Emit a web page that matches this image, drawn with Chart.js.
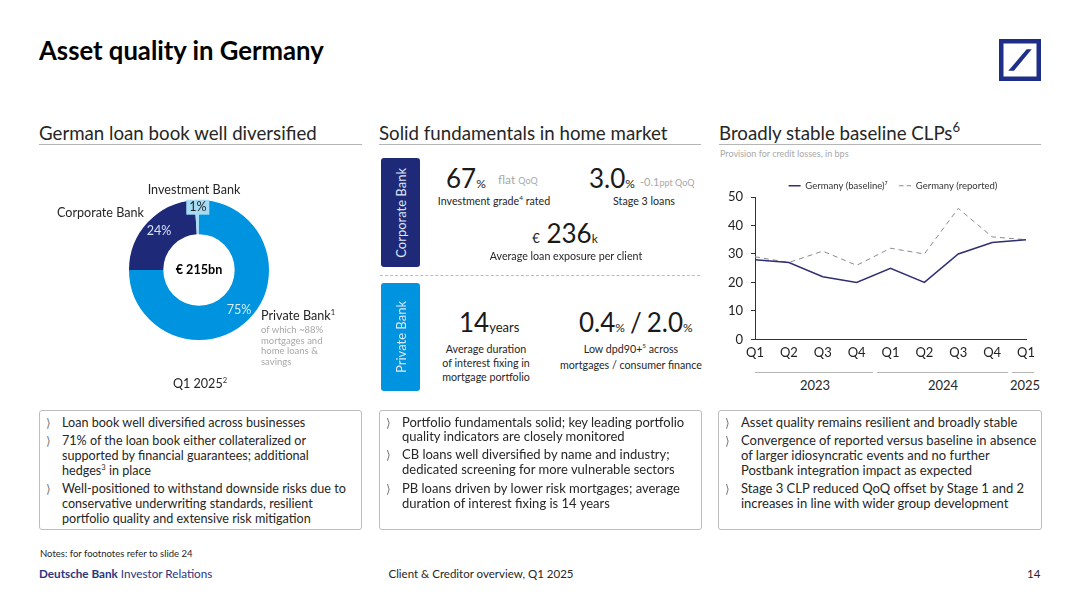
<!DOCTYPE html>
<html>
<head>
<meta charset="utf-8">
<script src="https://cdn.jsdelivr.net/npm/chart.js@4"></script>
<style>
html, body { margin: 0; padding: 0; background: #fff; }
#slide { position: relative; width: 1080px; height: 607px; overflow: hidden; font-family: Lato, "Noto Sans", sans-serif; color: #262626; }
.t { position: absolute; white-space: nowrap; transform: translateY(-50%); font-size: 12.6px; line-height: 1; }
.c { transform: translate(-50%, -50%); }
.w { font-size: 13px; margin-top: -1px; }
.h { font-size: 18.7px; }
.s { font-size: 10.7px; }
.g { color: #a8a8a8; }
.big { font-size: 26px; color: #1a1a1a; }
.box { position: absolute; top: 410px; height: 118px; border: 1px solid #bdbdbd; border-radius: 3px; }
.rule { position: absolute; height: 1px; background: #b5b5b5; }
.tab { position: absolute; left: 381px; width: 39px; border-radius: 3px; color: #dfe6f5; font-size: 13px; display: flex; align-items: center; justify-content: center; }
.tab span { writing-mode: vertical-rl; transform: rotate(180deg); }
.ch { font-family: "DejaVu Sans"; color: #777; font-size: 12px; }
sup { font-size: 60%; line-height: 0; }
canvas { position: absolute; }
</style>
</head>
<body>
<div id="slide">
  <div class="t" style="left:39px;top:51px;font-size:25.7px;font-weight:700;color:#000">Asset quality in Germany</div>
  <svg style="position:absolute;left:999px;top:39px" width="42" height="42" viewBox="0 0 42 42">
    <rect x="2.25" y="2.25" width="37.5" height="37.5" fill="none" stroke="#1f2f87" stroke-width="4.5"/>
    <polygon points="27.7,10.3 32.7,10.3 15,31.7 9.3,31.7" fill="#1f2f87"/>
  </svg>

  <div class="t h" style="left:39px;top:133px">German loan book well diversified</div>
  <div class="rule" style="left:39px;top:144px;width:323px"></div>
  <div class="t h" style="left:379px;top:133px">Solid fundamentals in home market</div>
  <div class="rule" style="left:379px;top:144px;width:322px"></div>
  <div class="t h" style="left:719px;top:133px">Broadly stable baseline CLPs<sup style="font-size:70%">6</sup></div>
  <div class="rule" style="left:719px;top:144px;width:322px"></div>
  <div class="t g" style="left:720px;top:153px;font-size:9px">Provision for credit losses, in bps</div>

  <canvas id="donut" width="180" height="180" style="left:109px;top:180px"></canvas>
  <div class="t c" style="left:194px;top:190px">Investment Bank</div>
  <div class="t" style="left:57px;top:213px">Corporate Bank</div>
  <div class="t c" style="left:198px;top:207px;background:#a5dcf4;padding:1px 3px">1%</div>
  <div class="t c" style="left:159px;top:231px;color:#d6e0f5">24%</div>
  <div class="t c" style="left:239px;top:310px;color:#d5effc">75%</div>
  <div class="t c" style="left:199px;top:270px;font-weight:700;color:#000">€ 215bn</div>
  <div class="t" style="left:261px;top:316px">Private Bank<sup>1</sup></div>
  <div class="t g" style="left:261px;top:330px;font-size:9.5px">of which ~88%</div>
  <div class="t g" style="left:261px;top:341px;font-size:9.5px">mortgages and</div>
  <div class="t g" style="left:261px;top:351px;font-size:9.5px">home loans &amp;</div>
  <div class="t g" style="left:261px;top:362px;font-size:9.5px">savings</div>
  <div class="t c" style="left:200px;top:384px">Q1 2025<sup>2</sup></div>

  <div class="tab" style="top:158px;height:109px;background:#1e2a78"><span>Corporate Bank</span></div>
  <div class="tab" style="top:283px;height:108px;background:#0093e0"><span>Private Bank</span></div>
  <div style="position:absolute;left:380px;top:275px;width:320px;border-top:1px dashed #bbb"></div>

  <div class="t big" style="left:446px;top:178px">67<span style="font-size:12px">%</span></div>
  <div class="t g" style="left:498px;top:180px;font-size:12px">flat <span style="font-size:9px">QoQ</span></div>
  <div class="t c s" style="left:494px;top:201px">Investment grade<sup>4</sup> rated</div>
  <div class="t big" style="left:589px;top:178px">3.0<span style="font-size:12px">%</span></div>
  <div class="t g" style="left:640px;top:181px;font-size:11px">-0.1<span style="font-size:9px">ppt QoQ</span></div>
  <div class="t c s" style="left:644px;top:201px">Stage 3 loans</div>
  <div class="t c big" style="left:565px;top:233px"><span style="font-size:13px">€</span> 236<span style="font-size:12px">k</span></div>
  <div class="t c s" style="left:566px;top:256px">Average loan exposure per client</div>

  <div class="t big" style="left:459px;top:322px">14<span style="font-size:13px">years</span></div>
  <div class="t c s" style="left:486px;top:349px">Average duration</div>
  <div class="t c s" style="left:486px;top:363px">of interest fixing in</div>
  <div class="t c s" style="left:486px;top:377px">mortgage portfolio</div>
  <div class="t big" style="left:579px;top:322px">0.4<span style="font-size:12px">%</span><span style="margin:0 5px">/</span>2.0<span style="font-size:12px">%</span></div>
  <div class="t c s" style="left:631px;top:349px">Low dpd90+<sup>5</sup> across</div>
  <div class="t c s" style="left:631px;top:365px">mortgages / consumer finance</div>

  <canvas id="line" width="346" height="190" style="left:720px;top:177px"></canvas>
  <div class="rule" style="left:755px;top:372px;width:118px"></div>
  <div class="rule" style="left:877px;top:372px;width:131px"></div>
  <div class="rule" style="left:1012px;top:372px;width:22px"></div>
  <div class="t c" style="left:815px;top:385px;font-size:13px">2023</div>
  <div class="t c" style="left:943px;top:385px;font-size:13px">2024</div>
  <div class="t c" style="left:1025px;top:385px;font-size:13px">2025</div>

  <div class="box" style="left:39px;width:321px"></div>
  <div class="box" style="left:379px;width:321px"></div>
  <div class="box" style="left:718px;width:322px"></div>

  <div class="t ch" style="left:46px;top:423px">⟩</div>
  <div class="t" style="left:62px;top:423px">Loan book well diversified across businesses</div>
  <div class="t ch" style="left:46px;top:441px">⟩</div>
  <div class="t" style="left:62px;top:441px">71% of the loan book either collateralized or</div>
  <div class="t" style="left:62px;top:456px">supported by financial guarantees; additional</div>
  <div class="t" style="left:62px;top:471px">hedges<sup>3</sup> in place</div>
  <div class="t ch" style="left:46px;top:489px">⟩</div>
  <div class="t" style="left:62px;top:489px">Well-positioned to withstand downside risks due to</div>
  <div class="t" style="left:62px;top:504px">conservative underwriting standards, resilient</div>
  <div class="t" style="left:62px;top:519px">portfolio quality and extensive risk mitigation</div>

  <div class="t ch" style="left:386px;top:423px">⟩</div>
  <div class="t w" style="left:402px;top:423px">Portfolio fundamentals solid; key leading portfolio</div>
  <div class="t w" style="left:402px;top:437px">quality indicators are closely monitored</div>
  <div class="t ch" style="left:386px;top:455px">⟩</div>
  <div class="t w" style="left:402px;top:455px">CB loans well diversified by name and industry;</div>
  <div class="t w" style="left:402px;top:470px">dedicated screening for more vulnerable sectors</div>
  <div class="t ch" style="left:386px;top:489px">⟩</div>
  <div class="t w" style="left:402px;top:489px">PB loans driven by lower risk mortgages; average</div>
  <div class="t w" style="left:402px;top:504px">duration of interest fixing is 14 years</div>

  <div class="t ch" style="left:725px;top:423px">⟩</div>
  <div class="t w" style="left:741px;top:423px">Asset quality remains resilient and broadly stable</div>
  <div class="t ch" style="left:725px;top:441px">⟩</div>
  <div class="t w" style="left:741px;top:441px">Convergence of reported versus baseline in absence</div>
  <div class="t w" style="left:741px;top:456px">of larger idiosyncratic events and no further</div>
  <div class="t w" style="left:741px;top:471px">Postbank integration impact as expected</div>
  <div class="t ch" style="left:725px;top:489px">⟩</div>
  <div class="t w" style="left:741px;top:489px">Stage 3 CLP reduced QoQ offset by Stage 1 and 2</div>
  <div class="t w" style="left:741px;top:504px">increases in line with wider group development</div>

  <div class="t" style="left:40px;top:554px;font-size:9.5px">Notes: for footnotes refer to slide 24</div>
  <div class="t" style="left:39px;top:574px;font-size:11.7px;color:#2b3580"><b>Deutsche Bank</b> Investor Relations</div>
  <div class="t c" style="left:481px;top:574px;font-size:11.5px">Client &amp; Creditor overview, Q1 2025</div>
  <div class="t" style="left:1027px;top:574px;font-size:11.5px">14</div>
</div>

<script>
const shareLabels = ['Private Bank', 'Corporate Bank', 'Investment Bank'];
const shareValues = [75, 24, 1];
const shareColors = ['#0093e0', '#1e2a78', '#a5dcf4'];

const quarters = ['Q1', 'Q2', 'Q3', 'Q4', 'Q1', 'Q2', 'Q3', 'Q4', 'Q1'];
const baseline = [28, 27, 22, 20, 25, 20, 30, 34, 35];
const reported = [29, 27, 31, 26, 32, 30, 46, 36, 35];

new Chart(document.getElementById('donut'), {
    type: 'doughnut',
    data: {
        labels: shareLabels,
        datasets: [{ data: shareValues, backgroundColor: shareColors, borderWidth: 0 }]
    },
    options: {
        responsive: false,
        animation: false,
        radius: 70,
        cutout: '51%',
        plugins: { legend: { display: false }, tooltip: { enabled: false } }
    }
});

// legend takes a fixed height, so the plot top stays where it should
const legendHeight = {
    id: 'legendHeight',
    beforeInit(chart) {
        const fit = chart.legend.fit;
        chart.legend.fit = function () {
            fit.call(this);
            this.height = 20;
        };
    }
};

new Chart(document.getElementById('line'), {
    type: 'line',
    plugins: [legendHeight],
    data: {
        labels: quarters,
        datasets: [
            // trailing spaces keep the gap between the two legend items
            { label: 'Germany (baseline)⁷   ', data: baseline, borderColor: '#2f2f73', borderWidth: 1.5, pointRadius: 0, tension: 0 },
            { label: 'Germany (reported)', data: reported, borderColor: '#8a8a8a', borderWidth: 1, borderDash: [5, 4], pointRadius: 0, tension: 0 }
        ]
    },
    options: {
        responsive: false,
        animation: false,
        scales: {
            x: {
                grid: { display: false, drawTicks: false },
                border: { color: '#333' },
                ticks: { color: '#222', font: { family: 'Lato', size: 13 }, maxRotation: 0, autoSkip: false, padding: 6 }
            },
            y: {
                min: 0,
                max: 50,
                afterFit: scale => { scale.width = 35; },
                grid: { drawOnChartArea: false, tickLength: 4, color: '#333' },
                border: { color: '#333' },
                ticks: { stepSize: 10, color: '#222', font: { family: 'Lato', size: 13 }, padding: 8 }
            },
            // empty axis on the right, it keeps the legend centred over the wider canvas
            spacer: {
                position: 'right',
                afterFit: scale => { scale.width = 40; },
                grid: { display: false },
                border: { display: false },
                ticks: { display: false }
            }
        },
        plugins: {
            tooltip: { enabled: false },
            legend: {
                labels: {
                    usePointStyle: true,
                    pointStyle: 'line',
                    pointStyleWidth: 12,
                    color: '#333',
                    font: { family: 'Lato', size: 9.5 },
                    padding: 4,
                    // with point styles the legend drops the dash, so put it back
                    generateLabels: chart => Chart.defaults.plugins.legend.labels.generateLabels(chart).map(item => {
                        const dash = chart.data.datasets[item.datasetIndex].borderDash;
                        if (dash) item.lineDash = [4.5, 3];
                        return item;
                    })
                }
            }
        }
    }
});
</script>
</body>
</html>
